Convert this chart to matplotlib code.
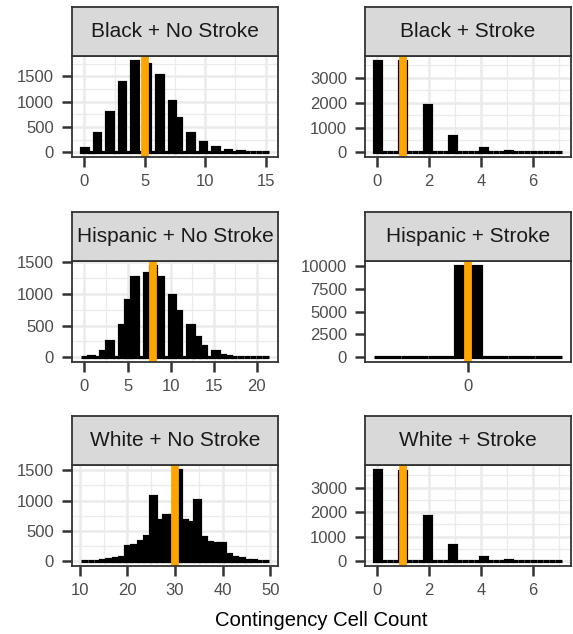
import numpy as np
import matplotlib
matplotlib.use("Agg")
import matplotlib.pyplot as plt
from matplotlib.ticker import MultipleLocator, FixedLocator

plt.rcParams['font.family'] = ['Liberation Sans', 'DejaVu Sans']

# ---------------- data ----------------
panel_titles = ["Black + No Stroke", "Black + Stroke",
                "Hispanic + No Stroke", "Hispanic + Stroke",
                "White + No Stroke", "White + Stroke"]

black_nostroke_values = list(range(0, 16))
black_nostroke_counts = [85, 392, 803, 1396, 1808, 1748, 1521, 1011, 685, 392,
                         196, 98, 46, 20, 15, 12]

black_stroke_values = list(range(0, 8))
black_stroke_counts = [3690, 3660, 1910, 640, 165, 45, 10, 2]

hispanic_nostroke_values = list(range(0, 22))
hispanic_nostroke_counts = [10, 25, 95, 250, 512, 905, 1260, 1323, 1440, 1260,
                            983, 721, 502, 320, 183, 95, 45, 22, 12, 8, 5, 3]

hispanic_stroke_values = [0]
hispanic_stroke_counts = [10000]

white_nostroke_values = list(range(11, 50))
white_nostroke_counts = [8, 10, 5, 5, 20, 45, 30, 30, 80, 260,
                         135, 135, 335, 420, 535, 535, 677, 760, 760, 755,
                         755, 677, 650, 505, 500, 405, 325, 150, 145, 295,
                         120, 40, 40, 50, 30, 10, 10, 10, 8]

white_stroke_values = list(range(0, 8))
white_stroke_counts = [3730, 3680, 1830, 650, 180, 45, 12, 3]

observed_counts = [5, 1, 8, 0, 30, 1]

x_tick_steps = [5, 2, 5, None, 10, 2]
y_tick_steps = [500, 1000, 500, 2500, 500, 1000]

x_label = "Contingency Cell Count"

panel_values = [black_nostroke_values, black_stroke_values,
                hispanic_nostroke_values, hispanic_stroke_values,
                white_nostroke_values, white_stroke_values]
panel_counts = [black_nostroke_counts, black_stroke_counts,
                hispanic_nostroke_counts, hispanic_stroke_counts,
                white_nostroke_counts, white_stroke_counts]


def gg_bins(values, counts, bins=30, pad=3):
    """ggplot2-like binning: 30 bins, data extremes centred in outer bins."""
    v = np.asarray(values, float)
    c = np.asarray(counts, float)
    lo, hi = v.min(), v.max()
    if hi == lo:
        width = 0.1
        edges = lo - width / 2 + width * np.arange(-pad, pad + 2)
    else:
        width = (hi - lo) / (bins - 1)
        edges = lo - width / 2 + width * np.arange(bins + 1)
    idx = np.floor((v - edges[0]) / width + 1e-9).astype(int)
    idx = np.clip(idx, 0, len(edges) - 2)
    heights = np.bincount(idx, weights=c, minlength=len(edges) - 1)
    return edges, heights


# ---------------- layout ----------------
W, H = 573, 634
fig = plt.figure(figsize=(W / 100, H / 100), dpi=100)

col_left = [72, 365]
panel_w = 206
row_strip_top = [7, 212, 416]
strip_h = 49
panel_h = 101

DARK = '#333333'
GRID = '#EBEBEB'

for i in range(6):
    r, c = divmod(i, 2)
    lx = col_left[c]
    st = row_strip_top[r]
    pt = st + strip_h
    ax = fig.add_axes([lx / W, 1 - (pt + panel_h) / H, panel_w / W, panel_h / H])
    sax = fig.add_axes([lx / W, 1 - pt / H, panel_w / W, strip_h / H])

    edges, heights = gg_bins(panel_values[i], panel_counts[i])
    ax.bar(edges[:-1], heights, width=np.diff(edges), align='edge',
           color='black', edgecolor='black', linewidth=2.3, zorder=2)
    ax.axvline(observed_counts[i], color='orange', linewidth=5.6, zorder=3)

    ax.use_sticky_edges = False
    ax.margins(x=0.05, y=0.05)

    if x_tick_steps[i] is None:
        ax.xaxis.set_major_locator(FixedLocator([observed_counts[i]]))
        show_grid = False
    else:
        ax.xaxis.set_major_locator(MultipleLocator(x_tick_steps[i]))
        ax.xaxis.set_minor_locator(MultipleLocator(x_tick_steps[i] / 2))
        show_grid = True
    ax.yaxis.set_major_locator(MultipleLocator(y_tick_steps[i]))
    if show_grid:
        ax.yaxis.set_minor_locator(MultipleLocator(y_tick_steps[i] / 2))
        ax.grid(which='major', color=GRID, linewidth=1.8, zorder=0)
        ax.grid(which='minor', color=GRID, linewidth=0.9, zorder=0)
    ax.set_axisbelow(True)
    ax.set_facecolor('white')

    ax.tick_params(which='major', length=7, width=1.8, color=DARK,
                   labelcolor='#4D4D4D', labelsize=12)
    ax.tick_params(axis='y', which='major', pad=6)
    ax.tick_params(axis='x', which='major', pad=5)
    ax.tick_params(which='minor', length=0)
    for s in ax.spines.values():
        s.set_color(DARK)
        s.set_linewidth(1.3)
        s.set_zorder(4)

    sax.set_facecolor('#D9D9D9')
    sax.set_xticks([])
    sax.set_yticks([])
    for s in sax.spines.values():
        s.set_color(DARK)
        s.set_linewidth(1.3)
    sax.text(0.5, 0.5, panel_titles[i], ha='center', va='center',
             fontsize=15, color='#1A1A1A', transform=sax.transAxes)

fig.text((72 + 571) / 2 / W, 1 - 620 / H, x_label, ha='center', va='center',
         fontsize=14.6, color='black')

fig.savefig('out.png', dpi=100)
